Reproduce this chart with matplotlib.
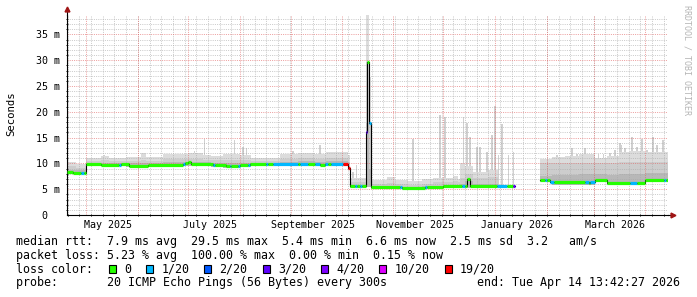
import numpy as np
import pandas as pd
import matplotlib
matplotlib.use('Agg')
import matplotlib.pyplot as plt
import matplotlib.dates as mdates
from matplotlib.patches import Rectangle

W, H = 697, 297
END = pd.Timestamp('2026-04-14 13:42:27')
START = END - pd.Timedelta(days=360)
MONO = 'DejaVu Sans Mono'
NAN = np.nan

# loss classes
LOSS_LABELS = ['0', '1/20', '2/20', '3/20', '4/20', '10/20', '19/20']
LOSS_COLORS = ['#26ff00', '#00b8ff', '#0059ff', '#5e00ff', '#7e00ff', '#dd00ff', '#ff0000']

# median rtt in ms, step values starting at each date
median_start = ['2025-04-19 13:42', '2025-04-23', '2025-04-28 06:00', '2025-04-29 12:00',
                '2025-05-01', '2025-05-10', '2025-05-21', '2025-05-22', '2025-05-27', '2025-06-07',
                '2025-06-28', '2025-06-29', '2025-07-01', '2025-07-03', '2025-07-16', '2025-07-17',
                '2025-07-24', '2025-07-26', '2025-07-27', '2025-07-31', '2025-08-01', '2025-08-06',
                '2025-08-07', '2025-08-17', '2025-08-18', '2025-08-21', '2025-09-05', '2025-09-06',
                '2025-09-11', '2025-09-15', '2025-09-18', '2025-09-21', '2025-09-23', '2025-09-25',
                '2025-10-02', '2025-10-05', '2025-10-06 06:00', '2025-10-09', '2025-10-10',
                '2025-10-12', '2025-10-13', '2025-10-15 20:00', '2025-10-16 12:00', '2025-10-17 18:00',
                '2025-10-18 14:00', '2025-11-05', '2025-11-06', '2025-11-20', '2025-11-21',
                '2025-12-01', '2025-12-12', '2025-12-14', '2025-12-15', '2025-12-17', '2026-01-02',
                '2026-01-08', '2026-01-12', '2026-01-13', '2026-01-28', '2026-01-31', '2026-02-01',
                '2026-02-03', '2026-02-05', '2026-02-24', '2026-02-26', '2026-02-27', '2026-03-02',
                '2026-03-09', '2026-03-23', '2026-03-27', '2026-04-01', '2026-04-12', '2026-04-13 12:00']
median_ms = [8.4, 8.2, 8.2, 8.2,
             9.8, 9.7, 9.7, 9.8, 9.5, 9.7,
             9.9, 10.0, 10.3, 9.8, 9.7, 9.7,
             9.5, 9.4, 9.5, 9.5, 9.6, 9.6,
             9.8, 9.8, 9.8, 9.8, 9.8, 9.8,
             9.8, 9.8, 9.7, 9.8, 9.8, 9.9,
             9.8, 9.1, 5.6, 5.6, 5.6,
             5.6, 5.6, 16.1, 29.6, 17.8,
             5.5, 5.4, 5.3, 5.4, 5.5,
             5.6, 5.7, 5.7, 7.0, 5.6, 5.6,
             5.6, 5.6, NAN, 6.8, 6.8, 6.8,
             6.3, 6.3, 6.3, 6.2, 6.3, 6.8,
             6.2, 6.2, 6.2, 6.8, 6.7, 6.7]
median_loss = [0, 0, 1, 0,
               0, 0, 1, 0, 0, 0,
               1, 0, 0, 0, 1, 0,
               0, 1, 0, 1, 0, 1,
               0, 1, 0, 1, 0, 1,
               0, 1, 0, 1, 0, 1,
               6, 6, 0, 1, 0,
               1, 0, 3, 0, 1,
               0, 1, 0, 1, 0,
               0, 1, 0, 0, 0, 1,
               0, 3, 0, 0, 1, 0,
               1, 0, 1, 0, 1, 0,
               0, 1, 0, 0, 1, 0]

# smoke (ms): min, dense band top, mid band top, max per period
smoke_start = ['2025-04-19 13:42', '2025-04-25', '2025-05-01', '2025-05-10', '2025-05-15', '2025-05-25',
               '2025-06-03', '2025-06-06', '2025-06-16', '2025-07-01', '2025-07-10', '2025-07-15',
               '2025-07-22', '2025-08-01', '2025-08-08', '2025-08-25', '2025-09-05', '2025-09-15',
               '2025-09-22', '2025-10-05', '2025-10-06 06:00', '2025-10-15 20:00', '2025-10-17 18:00',
               '2025-10-18 14:00', '2025-10-28', '2025-11-02', '2025-11-10', '2025-11-18', '2025-11-25',
               '2025-12-01', '2025-12-07', '2025-12-10', '2025-12-11', '2025-12-14', '2025-12-19',
               '2025-12-28', '2026-01-03', '2026-01-13', '2026-01-28', '2026-02-04', '2026-02-12',
               '2026-02-20', '2026-03-02', '2026-03-09', '2026-03-16', '2026-03-23', '2026-04-01']
smoke_lo = [8.0, 7.9, 9.4, 9.4, 9.4, 9.3, 9.3, 9.3, 9.4, 9.4, 9.4, 9.3, 9.2, 9.3, 9.4, 9.4, 9.4, 9.4,
            9.4, 8.7, 5.3, 5.5, 5.5, 5.1, 5.1, 5.0, 5.0, 5.1, 5.1, 5.2, 5.2, 5.2, 5.2, 5.3, 5.3,
            5.3, 5.2, NAN, 6.4, 5.9, 5.9, 5.9, 6.4, 5.8, 5.8, 5.8, 6.3]
smoke_q1 = [8.8, 8.7, 10.1, 10.1, 10.1, 10.0, 10.1, 10.0, 10.2, 10.3, 10.2, 10.1, 10.0, 10.1, 10.1, 10.3,
            10.4, 10.3, 10.4, 9.4, 5.8, 17.8, 9.0, 5.6, 5.6, 5.5, 5.4, 5.6, 5.7, 5.8, 5.8, 5.8, 6.0,
            6.6, 6.0, 6.0, 5.9, NAN, 7.6, 7.8, 7.8, 7.9, 8.0, 7.8, 8.0, 8.0, 8.1]
smoke_q2 = [9.4, 9.2, 10.5, 10.6, 10.5, 10.5, 10.7, 10.5, 10.8, 10.9, 10.7, 10.6, 10.6, 10.6, 10.5, 10.9,
            11.0, 10.9, 11.1, 10.2, 6.4, 29.6, 17.8, 6.1, 6.2, 6.0, 5.9, 6.1, 6.3, 6.4, 6.5, 6.3, 7.2,
            8.0, 7.2, 7.3, 6.7, NAN, 10.0, 10.1, 10.0, 10.1, 10.0, 10.0, 10.2, 10.3, 10.3]
smoke_hi = [10.3, 9.9, 11.0, 11.4, 11.0, 11.2, 12.0, 11.2, 11.9, 12.1, 11.6, 11.5, 11.8, 11.6, 11.1, 11.9,
            12.1, 11.8, 12.2, 11.6, 7.1, 38.9, 26.7, 6.8, 7.3, 6.7, 6.5, 6.9, 7.1, 7.2, 7.5, 7.0, 10.0,
            9.5, 8.4, 8.7, 7.4, NAN, 10.8, 11.3, 11.5, 11.8, 11.0, 11.4, 12.2, 12.4, 12.2]

# single short bursts of high ping
spike_date = ['2025-05-12', '2025-07-05', '2025-07-11', '2025-07-29', '2025-08-03', '2025-08-05',
              '2025-09-02', '2025-09-18', '2025-10-08', '2025-10-10', '2025-11-13', '2025-11-29',
              '2025-12-02', '2025-12-13', '2025-12-15', '2025-12-17', '2025-12-21', '2025-12-23',
              '2025-12-27', '2025-12-30', '2025-12-31 18:00', '2026-01-03', '2026-01-05', '2026-01-09',
              '2026-01-12', '2026-02-07', '2026-02-16', '2026-02-19', '2026-02-24', '2026-03-04',
              '2026-03-07', '2026-03-11', '2026-03-14', '2026-03-16 18:00', '2026-03-17 18:00',
              '2026-03-20', '2026-03-24', '2026-03-27', '2026-03-30', '2026-04-02', '2026-04-05 12:00',
              '2026-04-08', '2026-04-11 12:00']
spike_ms = [11.7, 12.5, 14.8, 14.6, 13.2, 12.9,
            12.4, 13.5, 8.4, 9.7, 14.8, 19.3,
            19.0, 19.0, 17.9, 15.1, 13.1, 13.1,
            12.2, 15.5, 21.1, 11.6, 17.6, 11.6,
            12.2, 11.6, 12.9, 11.9, 12.9, 11.9,
            11.9, 12.0, 12.6, 13.9, 13.5,
            12.9, 15.1, 13.2, 14.8, 12.6, 15.1,
            13.5, 14.5]

month_labels = ['May 2025', 'July 2025', 'September 2025', 'November 2025', 'January 2026', 'March 2026']
month_label_dates = ['2025-05-14', '2025-07-14', '2025-09-14', '2025-11-14', '2026-01-14', '2026-03-14']

legend_rtt = 'median rtt:  7.9 ms avg  29.5 ms max  5.4 ms min  6.6 ms now  2.5 ms sd  3.2   am/s'
legend_loss = 'packet loss: 5.23 % avg  100.00 % max  0.00 % min  0.15 % now'
legend_probe = 'probe:       20 ICMP Echo Pings (56 Bytes) every 300s'
legend_end = 'end: Tue Apr 14 13:42:27 2026'


def dnum(values):
    return mdates.date2num(pd.to_datetime(pd.Series(values).astype(str), format='ISO8601').values)


x0, x1 = dnum([START, END])

fig = plt.figure(figsize=(W / 100, H / 100), dpi=100)
ax = fig.add_axes([67 / W, 1 - 215 / H, 601 / W, 200 / H])
ax.set_xlim(x0, x1)
ax.set_ylim(0, 200 / 5.16)

# smoke
sx = np.append(dnum(smoke_start), x1)
lo = np.append(smoke_lo, smoke_lo[-1])
q1 = np.append(smoke_q1, smoke_q1[-1])
q2 = np.append(smoke_q2, smoke_q2[-1])
hi = np.append(smoke_hi, smoke_hi[-1])

px = dnum(spike_date)
idx = np.searchsorted(sx, px, side='right') - 1
base = np.array(smoke_lo)[idx]
ax.bar(px, np.array(spike_ms) - base, width=1.0, bottom=base, color='#d0d0d0', lw=0, zorder=1)

ax.fill_between(sx, lo, hi, step='post', color='#dcdcdc', lw=0, zorder=1.1)
ax.fill_between(sx, lo, q2, step='post', color='#cdcdcd', lw=0, zorder=1.2)
ax.fill_between(sx, lo, q1, step='post', color='#b8b8b8', lw=0, zorder=1.3)

# dotted grid on top of smoke
weeks = pd.date_range(START.normalize(), END, freq='W-SUN')
dot = dict(lw=0.72, ls=(0, (1, 1.2)), dash_capstyle='butt')
for v in range(1, 39):
    major = v % 5 == 0
    ax.axhline(v, color='#e06060' if major else '#a8a8a8', alpha=0.6, zorder=2.1 if major else 2, **dot)
for d in dnum(weeks):
    ax.axvline(d, color='#a8a8a8', alpha=0.6, zorder=2, **dot)
for d in dnum(pd.date_range('2025-05-01', '2026-04-01', freq='MS')):
    ax.axvline(d, color='#e06060', alpha=0.6, zorder=2.1, **dot)

# median line
mx = dnum(median_start)
mx_end = np.append(mx[1:], x1)
my = np.array(median_ms)
ax.step(np.append(mx, x1), np.append(my, my[-1]), where='post', color='#000000', lw=0.8, zorder=3)
ok = ~np.isnan(my)
ax.hlines(my[ok], mx[ok], mx_end[ok], colors=[LOSS_COLORS[i] for i in np.array(median_loss)[ok]],
          lw=2.3, zorder=3.1)

# axes and ticks
for s in ['top', 'right']:
    ax.spines[s].set_visible(False)
for s in ['left', 'bottom']:
    ax.spines[s].set_linewidth(0.8)
    ax.spines[s].set_color('#000000')
ax.plot([0, 0], [1, 1.02], color='#000000', lw=0.8, transform=ax.transAxes, clip_on=False)
ax.plot([1, 1.005], [0, 0], color='#000000', lw=0.8, transform=ax.transAxes, clip_on=False)
ax.plot([0], [1.03], marker='^', ms=3.5, color='#a01515', transform=ax.transAxes, clip_on=False)
ax.plot([1.008], [0], marker='>', ms=3.5, color='#a01515', transform=ax.transAxes, clip_on=False)

ax.set_yticks(range(0, 36, 5))
ax.set_yticklabels([' 0'] + ['%2d m' % v for v in range(5, 36, 5)], family=MONO, fontsize=7.2, ha='left')
ax.tick_params(axis='y', length=0, pad=22.3)
ax.set_xticks(dnum(month_label_dates))
ax.set_xticklabels(month_labels, family=MONO, fontsize=7.2)
ax.tick_params(axis='x', length=0, pad=3.5)
ax.set_yticks(range(1, 39), minor=True)
ax.set_xticks(dnum(weeks), minor=True)
ax.tick_params(which='minor', length=2, width=0.7, direction='inout', color='#000000')

fig.text(11 / W, 1 - 114 / H, 'Seconds', family=MONO, fontsize=7.7, rotation=90, ha='center', va='center')
fig.text(687.5 / W, 1 - 60 / H, 'RRDTOOL / TOBI OETIKER', family=MONO, fontsize=6, rotation=270,
         color='#b5b5b5', ha='center', va='center')

# legend block
fig.text(16 / W, 1 - 245.3 / H, legend_rtt, family=MONO, fontsize=8.37, va='baseline')
fig.text(16 / W, 1 - 259 / H, legend_loss, family=MONO, fontsize=8.37, va='baseline')
fig.text(16 / W, 1 - 272.7 / H, 'loss color:', family=MONO, fontsize=8.37, va='baseline')
fig.text(16 / W, 1 - 286.3 / H, legend_probe, family=MONO, fontsize=8.37, va='baseline')
fig.text(680 / W, 1 - 286.3 / H, legend_end, family=MONO, fontsize=8.37, va='baseline', ha='right')

bx = 108.7
for lab, col in zip(LOSS_LABELS, LOSS_COLORS):
    fig.patches.append(Rectangle((bx / W, 1 - 273 / H), 7 / W, 8 / H, transform=fig.transFigure,
                                 facecolor=col, edgecolor='#000000', lw=0.8))
    fig.text((bx + 15.3) / W, 1 - 272.7 / H, lab, family=MONO, fontsize=8.37, va='baseline')
    bx += 15.3 + 7 * len(lab) + 15

fig.savefig('out.png', dpi=100, facecolor='white')
